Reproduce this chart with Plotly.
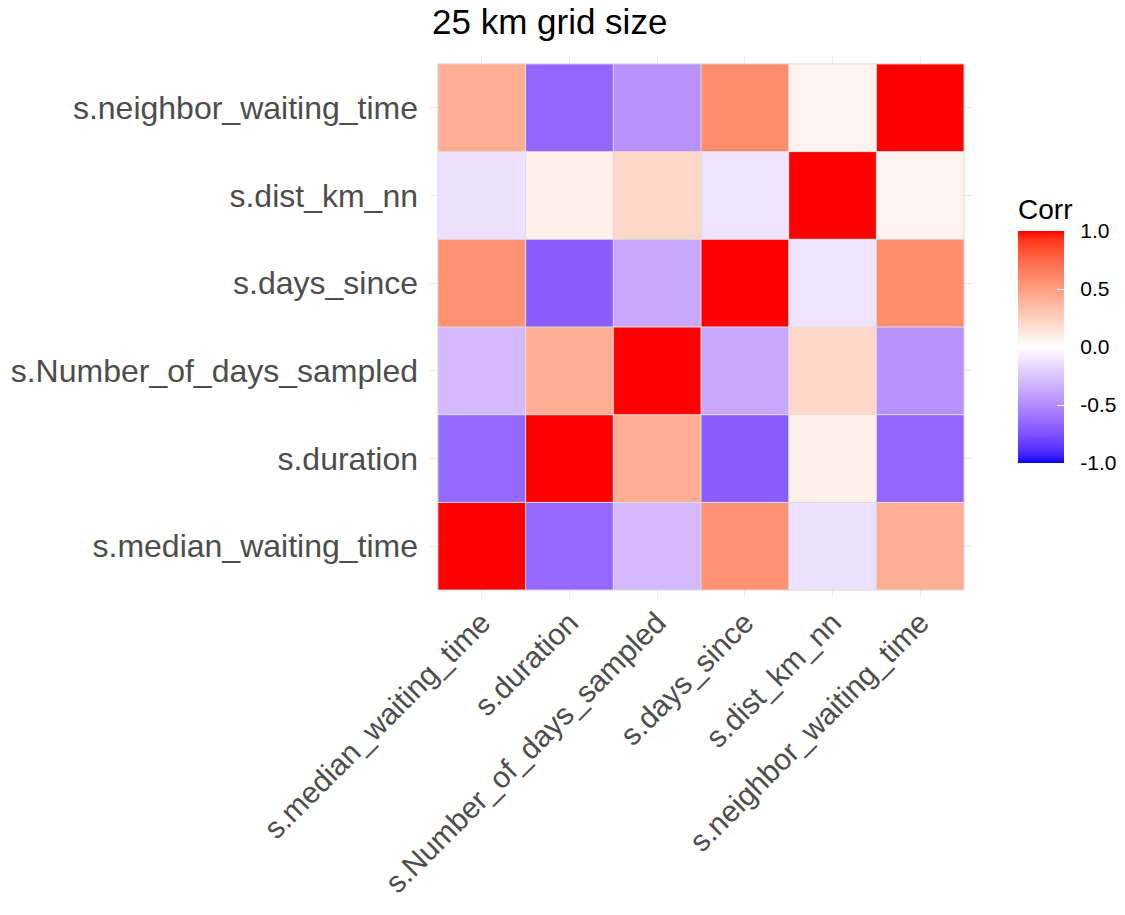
import plotly.graph_objects as go

# ---- data ----
variables = ["s.median_waiting_time", "s.duration", "s.Number_of_days_sampled",
             "s.days_since", "s.dist_km_nn", "s.neighbor_waiting_time"]
row_median_waiting_time   = [1.00, -0.65, -0.30,  0.56, -0.13,  0.42]
row_duration              = [-0.65, 1.00,  0.42, -0.70,  0.08, -0.66]
row_number_of_days        = [-0.30, 0.42,  1.00, -0.37,  0.21, -0.47]
row_days_since            = [0.56, -0.70, -0.37,  1.00, -0.12,  0.58]
row_dist_km_nn            = [-0.13, 0.08,  0.21, -0.12,  1.00,  0.06]
row_neighbor_waiting_time = [0.42, -0.66, -0.47,  0.58,  0.06,  1.00]
corr_rows = [row_median_waiting_time, row_duration, row_number_of_days,
             row_days_since, row_dist_km_nn, row_neighbor_waiting_time]
cbar_ticks = [-1.0, -0.5, 0.0, 0.5, 1.0]
cbar_ticktext = ["-1.0", "-0.5", "0.0", "0.5", "1.0"]
title_text = "25 km grid size"

# ---- Lab-space gradient (like ggplot2 scale_fill_gradient2) ----
def to_lab(rgb):
    def lin(c):
        c = c / 255.0
        return c / 12.92 if c <= 0.04045 else ((c + 0.055) / 1.055) ** 2.4
    r, g, b = (lin(c) for c in rgb)
    X = 0.4124 * r + 0.3576 * g + 0.1805 * b
    Y = 0.2126 * r + 0.7152 * g + 0.0722 * b
    Z = 0.0193 * r + 0.1192 * g + 0.9505 * b
    Xn, Yn, Zn = 0.95047, 1.0, 1.08883
    def f(t):
        return t ** (1 / 3) if t > 0.008856 else 7.787 * t + 16 / 116
    fx, fy, fz = f(X / Xn), f(Y / Yn), f(Z / Zn)
    return (116 * fy - 16, 500 * (fx - fy), 200 * (fy - fz))

def from_lab(lab):
    L, a, bb = lab
    fy = (L + 16) / 116
    fx = fy + a / 500
    fz = fy - bb / 200
    def finv(t):
        return t ** 3 if t ** 3 > 0.008856 else (t - 16 / 116) / 7.787
    X, Y, Z = 0.95047 * finv(fx), 1.0 * finv(fy), 1.08883 * finv(fz)
    r = 3.2406 * X - 1.5372 * Y - 0.4986 * Z
    g = -0.9689 * X + 1.8758 * Y + 0.0415 * Z
    b = 0.0557 * X - 0.2040 * Y + 1.0570 * Z
    def gam(c):
        c = max(0.0, min(1.0, c))
        return 12.92 * c if c <= 0.0031308 else 1.055 * c ** (1 / 2.4) - 0.055
    return tuple(int(round(255 * gam(c))) for c in (r, g, b))

low, mid, high = to_lab((0, 0, 255)), to_lab((255, 255, 255)), to_lab((255, 0, 0))
colorscale = []
nsteps = 40
for k in range(nsteps + 1):
    p = k / nsteps
    v = 2 * p - 1
    if v < 0:
        t = -v
        lab = tuple(m + (l - m) * t for m, l in zip(mid, low))
    else:
        t = v
        lab = tuple(m + (h - m) * t for m, h in zip(mid, high))
    r, g, b = from_lab(lab)
    colorscale.append([p, f"rgb({r},{g},{b})"])

n = len(variables)
idx = list(range(n))
font_family = "Liberation Sans, Arial, sans-serif"
pad = "\u00a0\u00a0"

fig = go.Figure()
fig.add_trace(go.Heatmap(
    z=corr_rows, x=idx, y=idx,
    zmin=-1, zmax=1, colorscale=colorscale,
    hoverinfo="skip",
    colorbar=dict(
        title=dict(text="Corr", side="top", font=dict(size=28, color="black", family=font_family)),
        tickvals=cbar_ticks, ticktext=[pad + t for t in cbar_ticktext],
        ticks="inside", ticklen=7, tickcolor="white", tickwidth=1,
        tickfont=dict(size=21, color="black", family=font_family),
        thickness=46, thicknessmode="pixels",
        len=268, lenmode="pixels",
        x=1.085, xanchor="left", xpad=0,
        y=(598 - 463) / 542, yanchor="bottom", ypad=0,
        outlinewidth=0,
    ),
))

# tile outlines along the cell boundaries
bx, by = [], []
for k in range(n + 1):
    bx += [k - 0.5, k - 0.5, None]
    by += [-0.5, n - 0.5, None]
    bx += [-0.5, n - 0.5, None]
    by += [k - 0.5, k - 0.5, None]
fig.add_trace(go.Scatter(x=bx, y=by, mode="lines",
                         line=dict(color="#DCDCDC", width=1),
                         hoverinfo="skip", showlegend=False))

axis_common = dict(
    showgrid=True, gridcolor="#EBEBEB", gridwidth=1,
    zeroline=False, showline=False, ticks="",
    range=[-0.59, n - 0.41], automargin=False,
)
fig.update_xaxes(type="linear", tickmode="array", tickvals=idx, ticktext=variables,
                 tickangle=-45, tickfont=dict(size=30, color="#4D4D4D", family=font_family),
                 **axis_common)
fig.update_yaxes(type="linear", tickmode="array", tickvals=idx, ticktext=variables,
                 ticklabelstandoff=11, tickfont=dict(size=32, color="#4D4D4D", family=font_family),
                 **axis_common)

fig.update_layout(
    width=1125, height=915,
    margin=dict(l=430, r=153, t=56, b=317, autoexpand=False),
    paper_bgcolor="white", plot_bgcolor="white",
    title=dict(text=title_text, x=432 / 1125, xref="container", xanchor="left",
               y=1 - 22 / 915, yref="container", yanchor="middle",
               font=dict(size=35, color="black", family=font_family)),
    showlegend=False,
    font=dict(family=font_family),
)
fig.write_html("out.html")
